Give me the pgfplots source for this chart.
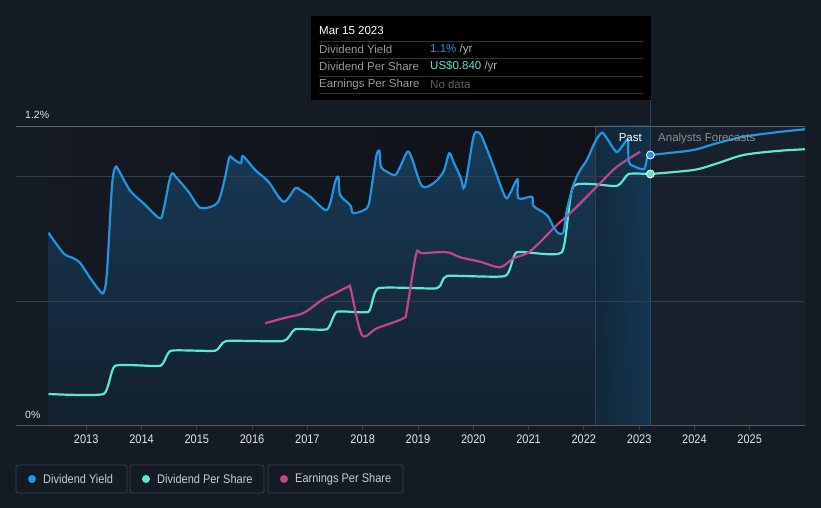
\documentclass[border=0pt]{standalone}
\usepackage{fontspec}
\setmainfont{Liberation Sans}
\newfontfamily\narrow{Liberation Sans}[FakeStretch=0.88]
\usepackage{pgfplots}
\usepackage{pgfplotstable}
\pgfplotsset{compat=1.18}

\definecolor{bg}{HTML}{151B24}
\definecolor{pastL}{HTML}{141922}
\definecolor{pastR}{HTML}{0E1116}
\definecolor{fcst}{HTML}{18202B}
\definecolor{fillTop}{HTML}{183A58}
\definecolor{fillBot}{HTML}{13202D}
\definecolor{bandL}{HTML}{1A3852}
\definecolor{bandR}{HTML}{1B5078}
\definecolor{gridc}{HTML}{363D47}
\definecolor{nowline}{HTML}{1F4D6E}
\definecolor{yield}{HTML}{2394DF}
\definecolor{dps}{HTML}{5EE6D0}
\definecolor{eps}{HTML}{C0468A}
\definecolor{txt}{HTML}{E2E4E8}
\definecolor{fctxt}{HTML}{8A8F96}
\definecolor{tiplab}{HTML}{9A9A9A}
\definecolor{tipunit}{HTML}{B0B0B0}
\definecolor{tipnone}{HTML}{5F6266}
\definecolor{tipsep}{HTML}{333333}
\definecolor{legtxt}{HTML}{C8CCD2}
\definecolor{legbox}{HTML}{3B4049}

% dividend yield, past (year, %)
\pgfplotstableread{
x y
2012.318 0.773
2012.589 0.691
2012.770 0.671
2012.892 0.652
2013.072 0.592
2013.222 0.547
2013.313 0.533
2013.374 0.612
2013.465 0.957
2013.524 1.035
2013.584 1.024
2013.796 0.941
2014.036 0.891
2014.326 0.831
2014.398 0.864
2014.532 1.004
2014.640 0.991
2014.850 0.937
2015.061 0.873
2015.333 0.884
2015.423 0.917
2015.514 0.997
2015.591 1.075
2015.664 1.067
2015.797 1.051
2015.834 1.080
2016.056 1.024
2016.297 0.977
2016.568 0.897
2016.779 0.951
2016.870 0.944
2017.051 0.917
2017.322 0.864
2017.412 0.891
2017.503 0.977
2017.562 0.995
2017.593 0.924
2017.774 0.884
2017.834 0.851
2018.076 0.871
2018.136 0.917
2018.244 1.077
2018.304 1.101
2018.329 1.037
2018.438 1.017
2018.588 1.004
2018.678 1.037
2018.810 1.097
2018.890 1.071
2019.071 0.960
2019.280 0.971
2019.461 1.017
2019.564 1.091
2019.642 1.057
2019.776 0.991
2019.823 0.951
2019.872 0.984
2020.004 1.157
2020.083 1.175
2020.156 1.157
2020.336 1.057
2020.577 0.917
2020.667 0.931
2020.799 0.987
2020.817 0.911
2021.060 0.917
2021.089 0.880
2021.331 0.844
2021.450 0.797
2021.541 0.771
2021.631 0.777
2021.693 0.864
2021.812 0.964
2021.933 1.024
2022.054 1.064
2022.204 1.137
2022.325 1.173
2022.416 1.151
2022.584 1.097
2022.687 1.117
2022.796 1.144
2022.814 1.057
2022.928 1.037
2023.090 1.028
2023.146 1.071
2023.203 1.084
}\yieldpast

\pgfplotstableread{
x y
2023.203 1.084
2023.500 1.091
2023.982 1.104
2024.405 1.131
2024.886 1.157
2025.490 1.175
2026.000 1.187
}\yieldfc

% dividend per share (scaled to the same axis)
\pgfplotstableread{
x y
2012.318 0.128
2013.313 0.128
2013.524 0.241
2014.338 0.241
2014.532 0.301
2015.333 0.301
2015.532 0.340
2016.568 0.340
2016.779 0.387
2017.353 0.387
2017.533 0.457
2018.105 0.457
2018.286 0.551
2019.342 0.551
2019.523 0.600
2020.577 0.600
2020.789 0.695
2021.602 0.695
2021.812 0.960
2022.597 0.960
2022.807 1.008
2023.203 1.008
}\dpspast

\pgfplotstableread{
x y
2023.203 1.008
2023.982 1.024
2024.405 1.050
2024.886 1.084
2025.490 1.100
2026.000 1.107
}\dpsfc

% earnings per share (scaled)
\pgfplotstableread{
x y
2016.237 0.411
2016.568 0.431
2016.870 0.447
2017.020 0.464
2017.262 0.504
2017.503 0.531
2017.743 0.557
2017.787 0.544
2017.986 0.364
2018.257 0.391
2018.738 0.431
2018.799 0.464
2018.967 0.688
2019.071 0.691
2019.523 0.695
2019.763 0.675
2020.125 0.657
2020.486 0.635
2020.727 0.671
2021.029 0.699
2021.512 0.804
2021.752 0.851
2022.295 0.971
2022.597 1.037
2023.018 1.097
}\epsdata

\begin{document}
\begin{tikzpicture}
\fill[bg] (0pt,0pt) rectangle (821pt,508pt);
\useasboundingbox (0pt,0pt) rectangle (821pt,508pt);
\begin{axis}[
    at={(16pt,82pt)}, anchor=south west,
    scale only axis, width=789pt, height=300pt,
    xmin=2011.73, xmax=2026, ymin=0, ymax=1.2,
    clip=false,
    axis line style={draw=none},
    tick align=outside,
    xtick pos=bottom,
    xtick={2013,2014,2015,2016,2017,2018,2019,2020,2021,2022,2023,2024,2025},
    xticklabels={2013,2014,2015,2016,2017,2018,2019,2020,2021,2022,2023,2024,2025},
    major tick length=4pt,
    xtick style={draw=legbox, line width=0.8pt},
    xticklabel style={font=\narrow\fontsize{12.5}{12.5}\selectfont, text=txt, yshift=-1.5pt},
    ytick={0,1.2},
    yticklabels={0\%,1.2\%},
    ytick style={draw=none},
    yticklabel style={font=\fontsize{10.5}{10.5}\selectfont, text=txt, anchor=south west, inner sep=0pt, xshift=13pt, yshift=7pt},
]
% background panels
\fill[left color=pastL, right color=pastR] (axis cs:2012.318,0) rectangle (axis cs:2023.203,1.2);
\fill[fcst] (axis cs:2023.203,0) rectangle (axis cs:2026,1.2);
% areas under the yield
\addplot[draw=none, top color=fillTop, bottom color=fillBot, smooth, tension=0.5] table {\yieldpast} \closedcycle;
\addplot[draw=none, fill=fcst, smooth] table {\yieldfc} \closedcycle;
% past year band
\fill[left color=bandL, right color=bandR, fill opacity=0.6] (axis cs:2022.2,0) rectangle (axis cs:2023.203,1.2);
\draw[gridc!70!bandR, line width=0.6pt] (axis cs:2022.2,0) -- (axis cs:2022.2,1.2);
% grid
\draw[gridc, line width=0.8pt] (axis cs:2011.73,0.5) -- (axis cs:2026,0.5);
\draw[gridc, line width=0.8pt] (axis cs:2011.73,1.0) -- (axis cs:2026,1.0);
\draw[gridc!80!white, line width=0.8pt] (axis cs:2011.73,1.2) -- (axis cs:2026,1.2);
\draw[gridc!85!white, line width=1pt] (axis cs:2011.73,0) -- (axis cs:2026,0);
\draw[nowline, line width=0.8pt] (axis cs:2023.203,0) -- (axis cs:2023.203,1.304);
% series
\addplot[dps, line width=2.2pt, smooth, tension=0.3] table {\dpspast};
\addplot[dps, line width=2.2pt, smooth] table {\dpsfc};
\addplot[eps, line width=2.2pt, smooth, tension=0.5] table {\epsdata};
\addplot[yield, line width=2.2pt, smooth, tension=0.5] table {\yieldpast};
\addplot[yield, line width=2.2pt, smooth] table {\yieldfc};
\addplot[only marks, mark=*, mark size=4pt, mark options={fill=yield, draw=white, line width=0.8pt}] coordinates {(2023.203,1.084)};
\addplot[only marks, mark=*, mark size=4pt, mark options={fill=dps, draw=white, line width=0.8pt}] coordinates {(2023.203,1.008)};
\end{axis}
% Past / forecast labels
\node[anchor=base east, text=white, font=\fontsize{11.5}{11.5}\selectfont, inner sep=0pt] at (642pt,366pt) {Past};
\node[anchor=base west, text=fctxt, font=\fontsize{11.5}{11.5}\selectfont, inner sep=0pt] at (658pt,366pt) {Analysts Forecasts};
% tooltip
\fill[black] (311pt,408pt) rectangle (651pt,492pt);
\foreach \yy in {466.3,449.7,432,414.7} \draw[tipsep, line width=0.7pt] (319pt,\yy pt) -- (643pt,\yy pt);
\begin{scope}[every node/.style={anchor=west, inner sep=0pt, font=\fontsize{11.5}{11.5}\selectfont}]
\node[text=white] at (319pt,477pt) {Mar 15 2023};
\node[text=tiplab] at (319pt,458.5pt) {Dividend Yield};
\node[text=tiplab] at (319pt,441.5pt) {Dividend Per Share};
\node[text=tiplab] at (319pt,423.5pt) {Earnings Per Share};
\node at (430pt,458.5pt) {\textcolor{yield}{1.1\%} \textcolor{tipunit}{/yr}};
\node at (430pt,441.5pt) {\textcolor{dps}{US\$0.840} \textcolor{tipunit}{/yr}};
\node[text=tipnone] at (430pt,423.5pt) {No data};
\end{scope}
% legend
\begin{scope}[every node/.style={anchor=west, inner sep=0pt, text=legtxt, font=\narrow\fontsize{12.5}{12.5}\selectfont}]
\draw[legbox, rounded corners=2pt, line width=0.8pt] (16pt,15pt) rectangle (127pt,43pt);
\fill[yield] (32pt,29pt) circle (4pt);
\node at (43pt,29pt) {Dividend Yield};
\draw[legbox, rounded corners=2pt, line width=0.8pt] (130pt,15pt) rectangle (264pt,43pt);
\fill[dps] (146pt,29pt) circle (4pt);
\node at (157pt,29pt) {Dividend Per Share};
\draw[legbox, rounded corners=2pt, line width=0.8pt] (268pt,15pt) rectangle (403pt,43pt);
\fill[eps] (284pt,29pt) circle (4pt);
\node at (295pt,29pt) {Earnings Per Share};
\end{scope}
\end{tikzpicture}
\end{document}
